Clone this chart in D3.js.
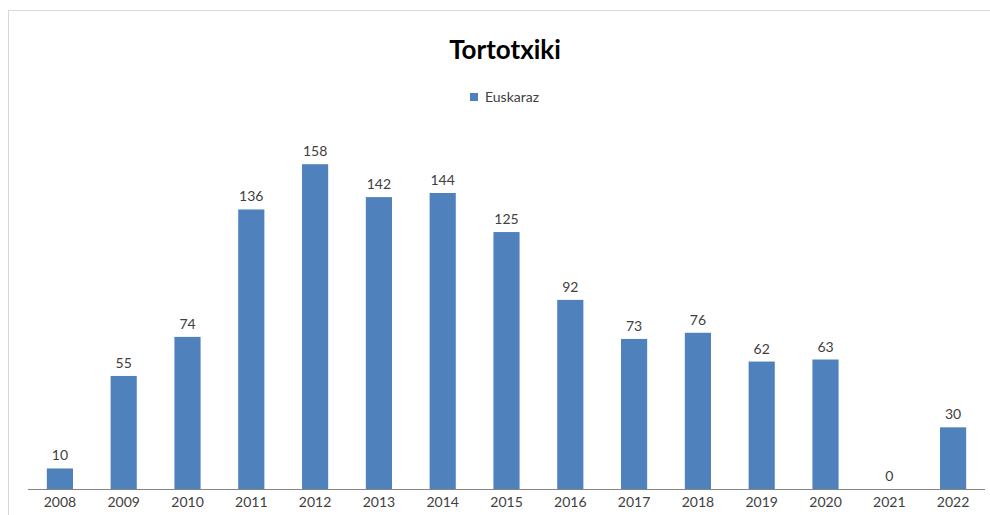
<!DOCTYPE html>
<html lang="en">
<head>
<script src="https://d3js.org/d3.v7.min.js"></script>
<style>
  body { margin: 0; background: #fff; }
  svg text { font-family: Lato, "Open Sans", sans-serif; }
</style>
</head>
<body>
<svg id="chart" width="990" height="515"></svg>
<script>
var years  = ["2008","2009","2010","2011","2012","2013","2014","2015","2016","2017","2018","2019","2020","2021","2022"]
var values = [10, 55, 74, 136, 158, 142, 144, 125, 92, 73, 76, 62, 63, 0, 30]
var seriesName = "Euskaraz"
var title = "Tortotxiki"

var width = 990, height = 515
var left = 28, right = 985, base = 489

var svg = d3.select("#chart")

// outer frame (runs past the window on right and bottom)
svg.append("rect").attr("x", 8.5).attr("y", 10.5).attr("width", 1000).attr("height", 600)
    .attr("fill", "none").attr("stroke", "#d9d9d9").attr("stroke-width", 1)

var x = d3.scaleBand().domain(years).range([left, right]).paddingInner(0.59).paddingOuter(0.295)
var y = d3.scaleLinear().domain([0, 180]).range([base, base - 370])

svg.selectAll("rect.bar").data(values).enter().append("rect")
    .attr("class", "bar")
    .attr("x", (d, i) => x(years[i]))
    .attr("width", x.bandwidth())
    .attr("y", d => y(d))
    .attr("height", d => y(0) - y(d))
    .attr("fill", "#4f81bd")

svg.selectAll("text.val").data(values).enter().append("text")
    .attr("class", "val")
    .attr("x", (d, i) => x(years[i]) + x.bandwidth() / 2)
    .attr("y", d => y(d) - 8)
    .attr("text-anchor", "middle")
    .attr("font-size", 14)
    .attr("fill", "#404040")
    .text(d => d)

var axis = d3.axisBottom(x).tickSize(0).tickPadding(8)
var gx = svg.append("g").attr("transform", "translate(0," + base + ")").call(axis)
gx.select(".domain").attr("stroke", "#868686").attr("d", "M" + left + ",0.5H" + right)
gx.selectAll("text").attr("font-size", 14).attr("fill", "#404040").attr("font-family", "Lato, sans-serif")

svg.append("text").attr("x", 505).attr("y", 59).attr("text-anchor", "middle")
    .attr("font-size", 26).attr("font-weight", "bold").attr("fill", "#000").text(title)

var lg = svg.append("g").attr("transform", "translate(470,93)")
lg.append("rect").attr("width", 8).attr("height", 8).attr("fill", "#4f81bd")
lg.append("text").attr("x", 15).attr("y", 9).attr("font-size", 14).attr("fill", "#404040").text(seriesName)
</script>
</body>
</html>
